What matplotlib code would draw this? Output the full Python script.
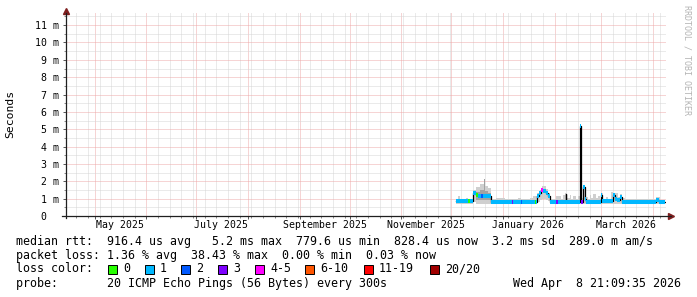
import matplotlib
matplotlib.use("Agg")
import matplotlib.pyplot as plt
import matplotlib.dates as mdates
from matplotlib.patches import Rectangle
import pandas as pd

# median rtt, one entry per step: start time, value in ms, loss class
med_start = ["2025-12-04 00:00", "2025-12-06 14:00", "2025-12-07 04:00", "2025-12-11 09:00",
             "2025-12-12 00:00", "2025-12-14 00:00", "2025-12-15 21:00", "2025-12-17 02:00",
             "2025-12-19 04:00", "2025-12-19 19:00", "2025-12-25 00:00", "2026-01-06 12:00",
             "2026-01-07 02:00", "2026-01-11 21:00", "2026-01-12 12:00", "2026-01-20 00:00",
             "2026-01-20 14:00", "2026-01-21 12:00", "2026-01-22 16:00", "2026-01-23 21:00",
             "2026-01-25 09:00", "2026-01-26 14:00", "2026-01-27 19:00", "2026-01-29 00:00",
             "2026-02-02 04:00", "2026-02-02 19:00", "2026-02-07 14:00", "2026-02-08 04:00",
             "2026-02-16 04:00", "2026-02-16 21:00", "2026-02-18 02:00", "2026-02-19 04:00",
             "2026-02-19 21:00", "2026-03-01 00:00", "2026-03-01 14:00", "2026-03-07 19:00",
             "2026-03-09 00:00", "2026-03-10 12:00", "2026-03-12 07:00", "2026-03-13 09:00",
             "2026-04-02 21:00", "2026-04-04 16:00"]
med_ms = [0.85, 0.85, 0.85, 0.85,
          0.85, 1.32, 1.20, 1.14,
          1.14, 1.14, 0.82, 0.82,
          0.82, 0.82, 0.82, 0.82,
          0.82, 1.15, 1.35, 1.50,
          1.42, 1.30, 1.15, 0.82,
          0.82, 0.82, 1.25, 0.82,
          5.20, 0.82, 1.65, 1.00,
          0.82, 1.20, 0.85, 1.20,
          1.00, 0.90, 1.12, 0.82,
          0.92, 0.82]
med_loss = [1, 4, 1, 0,
            1, 1, 0, 1,
            2, 1, 1, 3,
            1, 2, 1, 0,
            1, 1, 1, 4,
            1, 1, 1, 1,
            3, 1, 1, 1,
            1, 3, 1, 1,
            1, 1, 1, 1,
            1, 1, 1, 1,
            1, 1]
data_end = "2026-04-08 09:00"

# light smoke (spread of the 20 pings)
smoke_start = ["2025-12-04 00:00", "2025-12-04 19:00", "2025-12-06 00:00", "2025-12-09 14:00",
               "2025-12-10 19:00", "2025-12-14 00:00", "2025-12-15 21:00", "2025-12-18 00:00",
               "2025-12-20 13:00", "2025-12-21 10:00", "2025-12-23 09:00", "2025-12-25 00:00",
               "2025-12-28 04:00", "2026-01-02 00:00", "2026-01-09 19:00", "2026-01-11 14:00",
               "2026-01-17 00:00", "2026-01-19 09:00", "2026-01-21 12:00", "2026-01-23 00:00",
               "2026-01-24 12:00", "2026-01-26 14:00", "2026-01-27 19:00", "2026-01-29 00:00",
               "2026-02-02 04:00", "2026-02-04 14:00", "2026-02-05 19:00", "2026-02-07 00:00",
               "2026-02-08 12:00", "2026-02-10 00:00", "2026-02-11 04:00", "2026-02-12 09:00",
               "2026-02-13 14:00", "2026-02-14 19:00", "2026-02-16 04:00", "2026-02-18 02:00",
               "2026-02-19 07:00", "2026-02-20 19:00", "2026-02-22 00:00", "2026-02-23 04:00",
               "2026-02-24 09:00", "2026-02-25 14:00", "2026-02-26 19:00", "2026-02-28 00:00",
               "2026-03-01 00:00", "2026-03-01 19:00", "2026-03-03 14:00", "2026-03-05 09:00",
               "2026-03-07 04:00", "2026-03-08 09:00", "2026-03-09 14:00", "2026-03-10 19:00",
               "2026-03-12 00:00", "2026-03-13 12:00", "2026-03-15 00:00", "2026-04-02 14:00",
               "2026-04-05 00:00"]
smoke_lo = [0.72, 0.72, 0.72, 0.72,
            0.72, 0.80, 0.70, 0.70,
            0.70, 0.70, 0.70, 0.72,
            0.72, 0.72, 0.72, 0.72,
            0.72, 0.72, 0.80, 0.90,
            1.00, 0.95, 0.85, 0.72,
            0.72, 0.72, 0.72, 0.72,
            0.72, 0.72, 0.72, 0.72,
            0.72, 0.72, 0.72, 0.72,
            0.72, 0.72, 0.72, 0.72,
            0.72, 0.72, 0.72, 0.72,
            0.72, 0.72, 0.72, 0.72,
            0.72, 0.72, 0.72, 0.72,
            0.72, 0.72, 0.70, 0.72,
            0.70]
smoke_hi = [1.00, 1.14, 0.98, 1.05,
            0.98, 1.50, 1.70, 1.85,
            1.80, 1.75, 1.60, 0.96,
            1.02, 0.96, 1.02, 0.96,
            1.03, 1.14, 1.30, 1.50,
            1.72, 1.55, 1.30, 0.96,
            1.14, 0.98, 1.20, 1.35,
            1.05, 1.20, 1.00, 1.18,
            1.00, 1.15, 1.02, 1.75,
            1.12, 1.00, 1.22, 1.04,
            1.27, 1.04, 1.17, 1.00,
            1.30, 1.00, 1.12, 1.00,
            1.40, 1.30, 1.35, 1.12,
            1.25, 1.04, 0.98, 1.08,
            0.95]

# denser smoke inside the December bump
core_start = ["2025-12-15 21:00", "2025-12-18 00:00", "2025-12-20 13:00", "2025-12-21 10:00",
              "2025-12-23 09:00"]
core_lo = [0.90, 0.95, 0.95, 0.95, 0.95]
core_hi = [1.40, 1.50, 2.16, 1.45, 1.35]
core_end = "2025-12-25 00:00"

loss_labels = ["0", "1", "2", "3", "4-5", "6-10", "11-19", "20/20"]
loss_colors = ["#26ff00", "#00b8ff", "#0059ff", "#7e00ff", "#ff00ff", "#ff5500", "#ff0000", "#a10000"]

y_ticks = [0, 1, 2, 3, 4, 5, 6, 7, 8, 9, 10, 11]
graph_end = pd.Timestamp("2026-04-08 21:09:35")
span_days = 360

legend_lines = [
    "median rtt:  916.4 us avg   5.2 ms max  779.6 us min  828.4 us now  3.2 ms sd  289.0 m am/s",
    "packet loss: 1.36 % avg  38.43 % max  0.00 % min  0.03 % now",
    "loss color:",
    "probe:       20 ICMP Echo Pings (56 Bytes) every 300s",
]
stamp = "Wed Apr  8 21:09:35 2026"

MONO = "DejaVu Sans Mono"
W, H = 697, 297

fig = plt.figure(figsize=(W / 100, H / 100), dpi=100)
fig.patch.set_facecolor("white")
# plot area on whole pixels so the dotted grid stays crisp
ax = fig.add_axes([66 / W, 81 / H, 600 / W, 203 / H])

# smoke
t = pd.to_datetime(smoke_start + [data_end])
ax.fill_between(t, smoke_lo + [smoke_lo[-1]], smoke_hi + [smoke_hi[-1]],
                step="post", color="#cfcfcf", lw=0, zorder=2)
tc = pd.to_datetime(core_start + [core_end])
ax.fill_between(tc, core_lo + [core_lo[-1]], core_hi + [core_hi[-1]],
                step="post", color="#a2a2a2", lw=0, zorder=2)

# median: black step line, loss coloured caps
tm = pd.to_datetime(med_start + [data_end])
ax.step(tm, med_ms + [med_ms[-1]], where="post", color="black", lw=0.9, zorder=3)
ax.hlines(med_ms, tm[:-1], tm[1:], colors=[loss_colors[i] for i in med_loss],
          lw=2.9, zorder=4)

ax.set_xlim(graph_end - pd.Timedelta(days=span_days), graph_end)
ax.set_ylim(0, 11.7)

# grid
ax.xaxis.set_major_locator(mdates.MonthLocator())
ax.xaxis.set_minor_locator(mdates.WeekdayLocator(byweekday=mdates.SU))
ax.xaxis.set_major_formatter(plt.NullFormatter())
ax.set_yticks(y_ticks)
ax.set_yticks([v + 0.5 for v in y_ticks], minor=True)
ax.set_yticklabels(["0  "] + ["%d m" % v for v in y_ticks[1:]], family=MONO, fontsize=7.1)
ax.set_axisbelow(True)
ax.grid(which="minor", color="#d6d6d6", linestyle=(0, (1, 1)), lw=0.72)
ax.grid(which="major", color="#eeaaaa", linestyle=(0, (1, 1)), lw=0.72)
ax.tick_params(which="major", length=2.5, width=0.7, color="#555555", pad=2.2)
ax.tick_params(which="minor", length=1.5, width=0.7, color="#888888")
for s in ax.spines.values():
    s.set_visible(False)

# axes with arrows
ax.plot([0, 0], [-0.012, 1.0], transform=ax.transAxes, color="#1f1f1f", lw=0.9, clip_on=False, zorder=5)
ax.plot([-0.006, 1.008], [0, 0], transform=ax.transAxes, color="#1f1f1f", lw=0.9, clip_on=False, zorder=5)
ax.plot([0], [1.012], marker="^", ms=4.2, color="#7f1f1f", transform=ax.transAxes, clip_on=False)
ax.plot([1.008], [0], marker=">", ms=4.2, color="#7f1f1f", transform=ax.transAxes, clip_on=False)

# month labels, centred half a month after the month start
for m in pd.date_range("2025-05-01", "2026-03-01", freq="2MS"):
    ax.text(m + pd.Timedelta(days=15), -0.046, m.strftime("%B %Y"),
            transform=ax.get_xaxis_transform(), ha="center", va="center",
            family=MONO, fontsize=7.1)

fig.text(10 / W, 1 - 114 / H, "Seconds", rotation=90, ha="center", va="center",
         family=MONO, fontsize=8.2)
fig.text(687 / W, 1 - 5 / H, "RRDTOOL / TOBI OETIKER", rotation=270, ha="center", va="top",
         family=MONO, fontsize=6, color="#b4b4b4")

# legend block
for txt, y in zip(legend_lines, [241, 255.5, 269, 283]):
    fig.text(16 / W, 1 - y / H, txt, ha="left", va="center", family=MONO, fontsize=8.4)
fig.text(681 / W, 1 - 283 / H, stamp, ha="right", va="center", family=MONO, fontsize=8.4)

box_x = [108, 144.5, 181, 218, 255, 305, 364, 430]
for bx, lab, col in zip(box_x, loss_labels, loss_colors):
    fig.add_artist(Rectangle((bx / W, 1 - 273.5 / H), 9 / W, 9 / H, transform=fig.transFigure,
                             facecolor=col, edgecolor="black", lw=0.7))
    fig.text((bx + 15) / W, 1 - 269 / H, lab, ha="left", va="center", family=MONO, fontsize=8.4)

fig.savefig("out.png", dpi=100)
